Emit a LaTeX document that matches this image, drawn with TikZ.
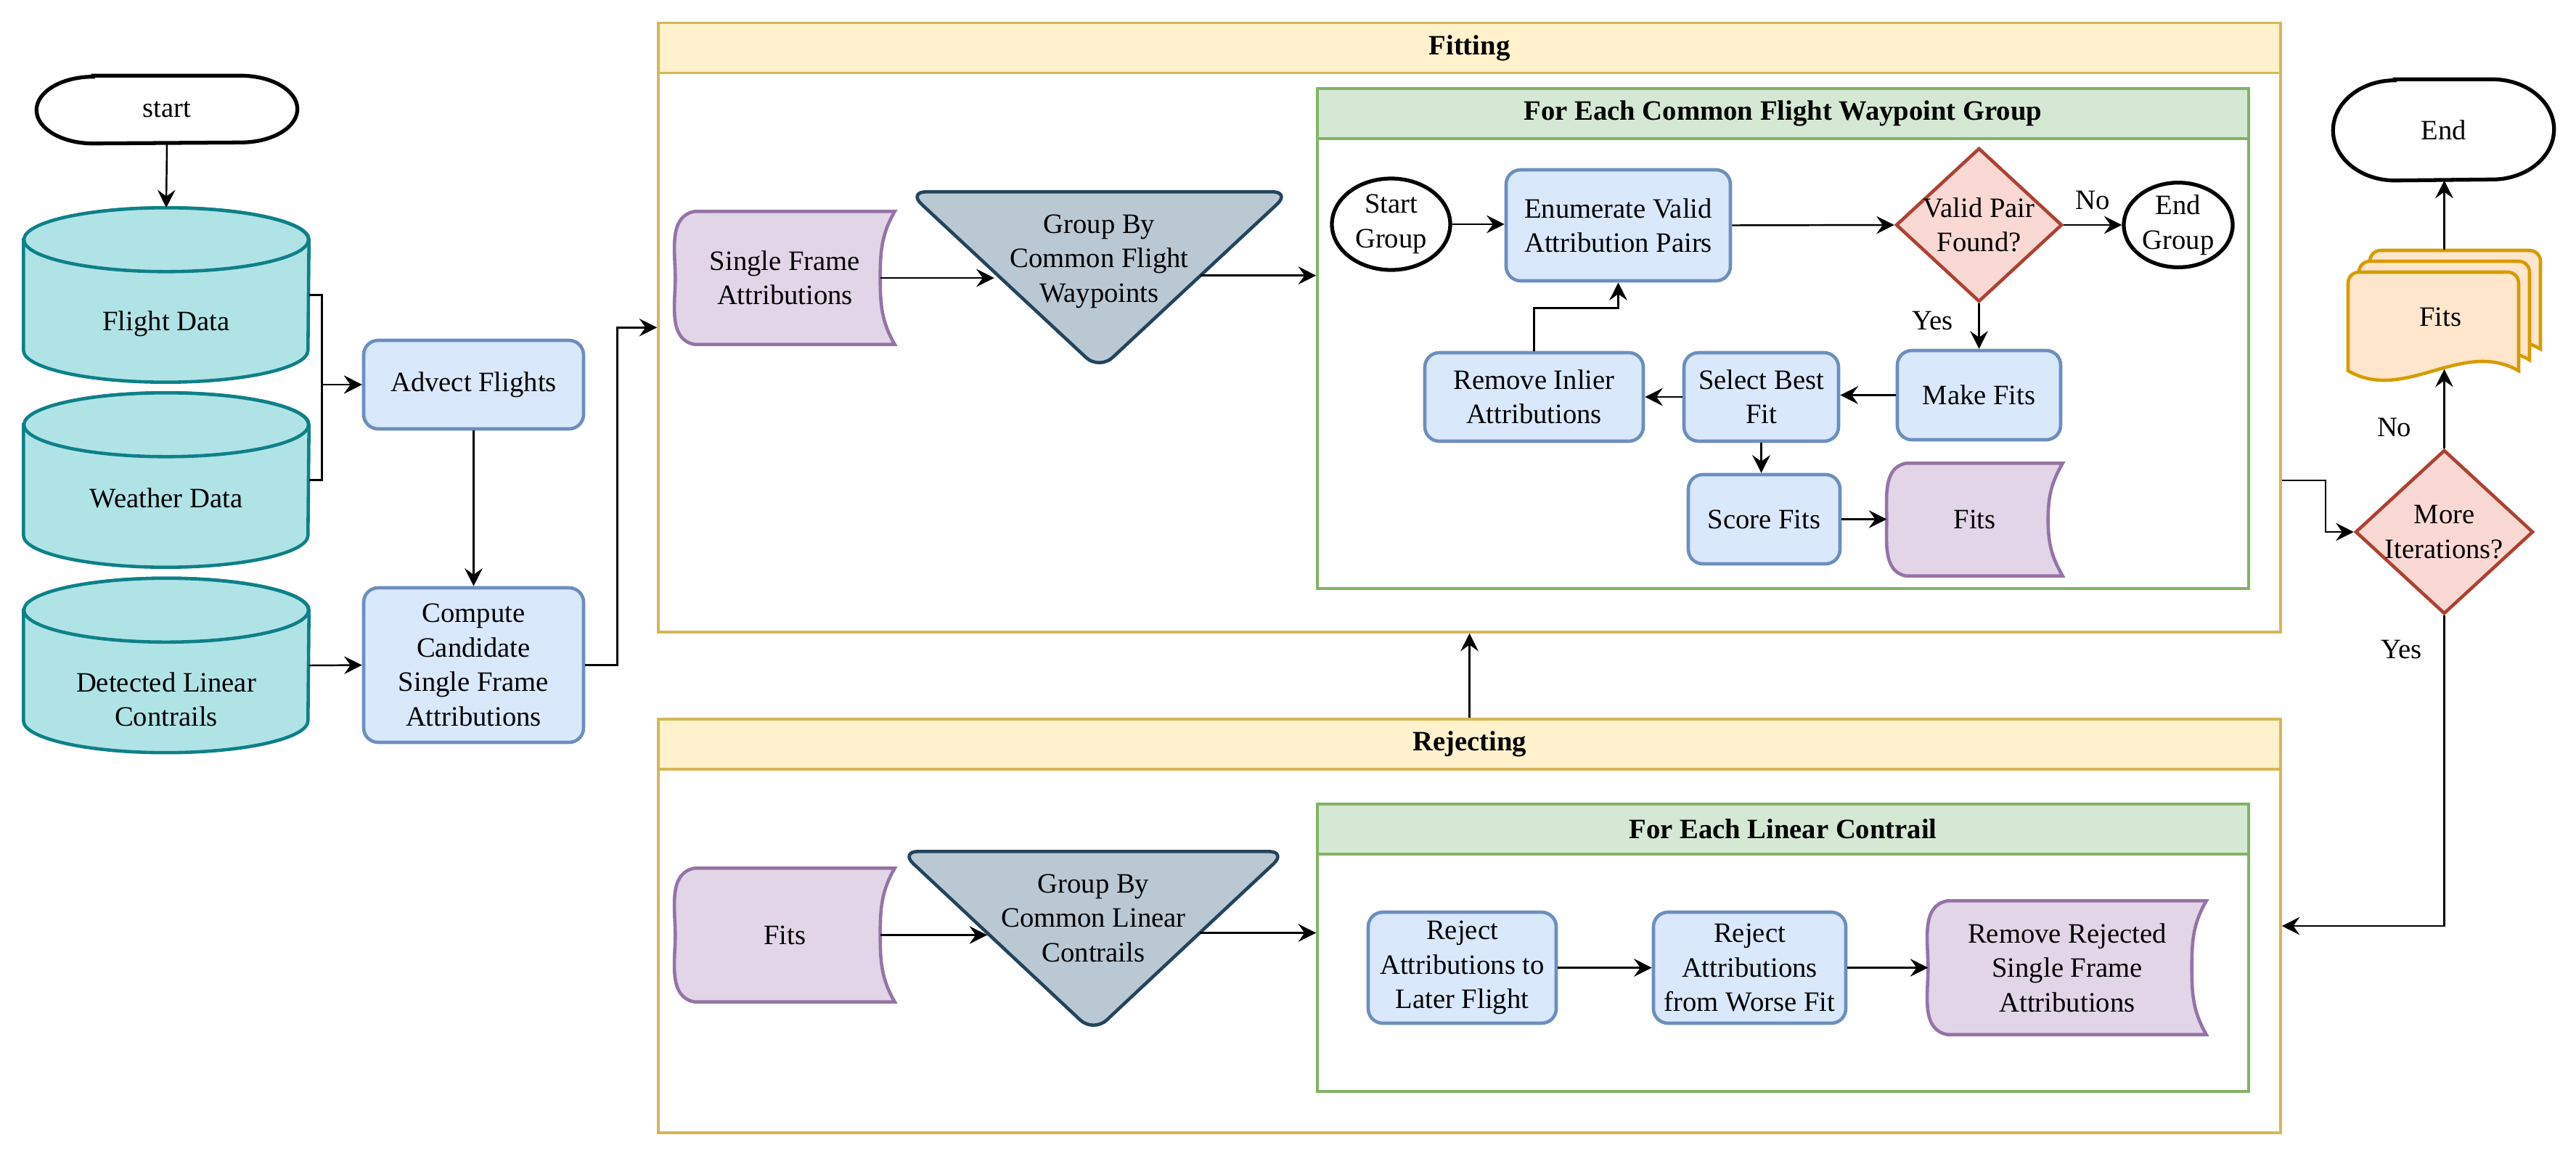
\documentclass[tikz,border=0pt]{standalone}
\usepackage{fontspec}
\setmainfont{Liberation Serif}
\usetikzlibrary{shapes.geometric,arrows.meta,calc,positioning}

\definecolor{cylfill}{HTML}{B0E3E6}\definecolor{cylline}{HTML}{0E8088}
\definecolor{procfill}{HTML}{DAE8FC}\definecolor{procline}{HTML}{6C8EBF}
\definecolor{storefill}{HTML}{E1D5E7}\definecolor{storeline}{HTML}{9673A6}
\definecolor{trifill}{HTML}{BAC8D3}\definecolor{triline}{HTML}{23445D}
\definecolor{decfill}{HTML}{FAD9D5}\definecolor{decline}{HTML}{AE4132}
\definecolor{lanefill}{HTML}{FFF2CC}\definecolor{laneline}{HTML}{D6B656}
\definecolor{grpfill}{HTML}{D5E8D4}\definecolor{grpline}{HTML}{82B366}
\definecolor{docfill}{HTML}{FFE6CC}\definecolor{docline}{HTML}{D79B00}

\pgfdeclarelayer{back}
\pgfdeclarelayer{shapes}
\pgfsetlayers{back,shapes,main}

\tikzset{
  every node/.style={font=\fontsize{11}{13.5}\selectfont, align=center, inner sep=0pt},
  proc/.style={rectangle, rounded corners=0.2cm, draw=procline, fill=procfill, line width=1.3pt},
  oval/.style={ellipse, draw, fill=white, line width=1.5pt},
  dec/.style={diamond, draw=decline, fill=decfill, line width=1.3pt},
  cyl/.style={minimum width=3.92cm, minimum height=2.39cm},
  lane/.style={draw=laneline, line width=1pt},
  lanehead/.style={draw=laneline, fill=lanefill, line width=1pt, anchor=north,
    minimum height=0.69cm, font=\fontsize{11}{13.5}\selectfont\bfseries},
  grp/.style={draw=grpline, line width=1pt},
  grphead/.style={draw=grpline, fill=grpfill, line width=1pt, anchor=north,
    minimum height=0.69cm, font=\fontsize{11}{13.5}\selectfont\bfseries},
  arr/.style={-{Stealth[length=7pt,width=7pt,inset=2.5pt]}, line width=0.7pt}
}

% shapes drawn behind the node texts
\newcommand{\termshape}[3]{%
  \draw[line width=1.5pt, fill=white]
    ($(#1.north west)+(#2,0)$) -- ($(#1.north east)+(-#2,0)$)
    arc[start angle=90, end angle=-90, x radius=#2cm, y radius=#3cm]
    -- ($(#1.south west)+(#2,0)$)
    arc[start angle=270, end angle=90, x radius=#2cm, y radius=#3cm] -- cycle;}
\newcommand{\cylshape}[1]{%
  \draw[draw=cylline, fill=cylfill, line width=1.3pt]
    ($(#1.north west)+(0,-0.44)$) -- ($(#1.south west)+(0,0.44)$)
    arc[start angle=180, end angle=360, x radius=1.96cm, y radius=0.44cm]
    -- ($(#1.north east)+(0,-0.44)$)
    arc[start angle=0, end angle=180, x radius=1.96cm, y radius=0.44cm] -- cycle;
  \draw[draw=cylline, fill=cylfill, line width=1.3pt]
    ($(#1.north)+(0,-0.44)$) ellipse[x radius=1.96cm, y radius=0.44cm];}
\newcommand{\storeshape}[1]{%
  \draw[draw=storeline, fill=storefill, line width=1.3pt]
    ($(#1.north west)+(0.27,0)$) -- (#1.north east)
    to[out=240,in=90] ($(#1.east)+(-0.2,0)$)
    to[out=270,in=120] (#1.south east)
    -- ($(#1.south west)+(0.27,0)$)
    to[out=170,in=270] (#1.west)
    to[out=90,in=190] ($(#1.north west)+(0.27,0)$) -- cycle;}
\newcommand{\trishape}[1]{%
  \draw[draw=triline, fill=trifill, line width=1.3pt, rounded corners=0.25cm]
    (#1.north west) -- (#1.north east) -- (#1.south) -- cycle;}
\newcommand{\fitspage}[2]{%
  \draw[draw=docline, fill=docfill, line width=1.3pt, shift={(#1,#2)}]
    (32.35,-5.11) -- (32.35,-3.90) arc[start angle=180, end angle=90, radius=0.15]
    -- (34.55,-3.75) arc[start angle=90, end angle=0, radius=0.15]
    -- (34.70,-5.11) .. controls (33.92,-4.66) and (33.13,-5.56) .. (32.35,-5.11) -- cycle;}

\begin{document}
\begin{tikzpicture}
  \begin{pgfonlayer}{back}
    \fill[white] (0,0) rectangle (35.49,-15.93);
  \end{pgfonlayer}
  \useasboundingbox (0,0) rectangle (35.49,-15.93);

  % Inputs
  \node[minimum width=3.58cm, minimum height=0.92cm] (start) at (2.30,-1.51) {start};
  \node[cyl, label={[yshift=-0.40cm]center:Flight Data}] (flight) at (2.29,-4.065) {};
  \node[cyl, label={[yshift=-0.245cm]center:Weather Data}] (weather) at (2.29,-6.615) {};
  \node[cyl, label={[yshift=-0.47cm]center:Detected Linear\\Contrails}] (detected) at (2.29,-9.17) {};
  \node[proc, minimum width=3.03cm, minimum height=1.22cm] (advect) at (6.525,-5.30) {Advect Flights};
  \node[proc, minimum width=3.03cm, minimum height=2.13cm] (compute) at (6.525,-9.165)
    {Compute\\Candidate\\Single Frame\\Attributions};
  \draw[arr] (start.south) -- (flight.north);
  \draw[arr] (flight.east) -- ++(0.18,0) |- (advect.west);
  \draw[arr] (weather.east) -- ++(0.18,0) |- (advect.west);
  \draw[arr] (detected.east) -- (compute.west);
  \draw[arr] (advect.south) -- (compute.north);

  % Fitting
  \node[lane, minimum width=22.35cm, minimum height=8.394cm] (fitting) at (20.245,-4.513) {};
  \node[lanehead, minimum width=22.35cm] (fittinghead) at (fitting.north) {Fitting};
  \node[minimum width=3.01cm, minimum height=1.82cm] (sfa) at (10.815,-3.83) {Single Frame\\Attributions};
  \node[minimum width=5.25cm, minimum height=2.44cm,
    label={[yshift=0.27cm]center:Group By\\Common Flight\\Waypoints}] (grp1) at (15.145,-3.87) {};
  \coordinate (grp1in) at ($(grp1.north west)!0.45!(grp1.south)$);
  \coordinate (grp1out) at ($(grp1.north east)!0.47!(grp1.south)$);
  \node[grp, minimum width=12.83cm, minimum height=6.89cm] (wpgroup) at (24.565,-4.665) {};
  \node[grphead, minimum width=12.83cm] (wpgrouphead) at (wpgroup.north) {For Each Common Flight Waypoint Group};
  \draw[arr] (compute.east) -- ++(0.44,0) |- (fitting.west);
  \draw[arr] ([xshift=-0.2cm]sfa.east) -- (sfa.east -| grp1in);
  \draw[arr] (grp1out) -- (grp1out -| wpgroup.west);

  % Each waypoint group
  \node[oval, minimum width=1.63cm, minimum height=1.26cm] (sgrp) at (19.165,-3.09) {Start\\Group};
  \node[proc, minimum width=3.09cm, minimum height=1.53cm] (enum) at (22.295,-3.105) {Enumerate Valid\\Attribution Pairs};
  \node[dec, minimum width=2.29cm, minimum height=2.12cm, label=center:Valid Pair\\Found?] (vpf) at (27.265,-3.10) {};
  \node[oval, minimum width=1.50cm, minimum height=1.12cm] (egrp) at (30.01,-3.10) {End\\Group};
  \node[proc, minimum width=2.25cm, minimum height=1.23cm] (mkfit) at (27.265,-5.445) {Make Fits};
  \node[proc, minimum width=2.13cm, minimum height=1.22cm] (sel) at (24.265,-5.47) {Select Best\\Fit};
  \node[proc, minimum width=3.01cm, minimum height=1.22cm] (rem) at (21.135,-5.47) {Remove Inlier\\Attributions};
  \node[proc, minimum width=2.09cm, minimum height=1.23cm] (score) at (24.305,-7.155) {Score Fits};
  \node[minimum width=2.41cm, minimum height=1.54cm] (fits1) at (27.205,-7.16) {Fits};
  \draw[arr] (sgrp.east) -- (sgrp.east -| enum.west);
  \draw[arr] (enum.east) -- (vpf.west);
  \draw[arr] (vpf.east) -- node[above=0.2cm] {No} (egrp.west);
  \draw[arr] (vpf.south) -- node[pos=0.38, left=0.35cm] {Yes} (mkfit.north);
  \draw[arr] (mkfit.west) -- (mkfit.west -| sel.east);
  \draw[arr] (sel.west) -- (sel.west -| rem.east);
  \draw[arr] (rem.north) -- ++(0,0.59) -| (enum.south);
  \draw[arr] (sel.south) -- (sel.south |- score.north);
  \draw[arr] (score.east) -- (score.east -| fits1.west);

  % Rejecting
  \node[lane, minimum width=22.35cm, minimum height=5.70cm] (rejecting) at (20.245,-12.76) {};
  \node[lanehead, minimum width=22.35cm] (rejectinghead) at (rejecting.north) {Rejecting};
  \node[minimum width=3.01cm, minimum height=1.83cm] (fits2) at (10.815,-12.885) {Fits};
  \node[minimum width=5.31cm, minimum height=2.48cm,
    label={[yshift=0.33cm]center:Group By\\Common Linear\\Contrails}] (grp2) at (15.065,-12.98) {};
  \coordinate (grp2in) at ($(grp2.north west)!0.45!(grp2.south)$);
  \coordinate (grp2out) at ($(grp2.north east)!0.45!(grp2.south)$);
  \node[grp, minimum width=12.83cm, minimum height=3.96cm] (lcgroup) at (24.565,-13.06) {};
  \node[grphead, minimum width=12.83cm] (lcgrouphead) at (lcgroup.north) {For Each Linear Contrail};
  \node[proc, minimum width=2.59cm, minimum height=1.53cm] (rej1) at (20.145,-13.335) {Reject\\Attributions to\\Later Flight};
  \node[proc, minimum width=2.65cm, minimum height=1.53cm] (rej2) at (24.105,-13.335) {Reject\\Attributions\\from Worse Fit};
  \node[minimum width=3.82cm, minimum height=1.83cm] (remrej) at (28.48,-13.335) {Remove Rejected\\Single Frame\\Attributions};
  \draw[arr] ([xshift=-0.2cm]fits2.east) -- (fits2.east -| grp2in);
  \draw[arr] (grp2out) -- (grp2out -| lcgroup.west);
  \draw[arr] (rej1.east) -- (rej2.west);
  \draw[arr] (rej2.east) -- (remrej.west);
  \draw[arr] (rejecting.north) -- (fitting.south);

  % Iterations
  \node[dec, minimum width=2.45cm, minimum height=2.26cm, label=center:More\\Iterations?] (moreit) at (33.675,-7.33) {};
  \node[minimum width=2.65cm, minimum height=1.63cm,
    label={[xshift=-0.055cm,yshift=-0.105cm]center:Fits}] (mfits) at (33.675,-4.265) {};
  \node[minimum width=3.03cm, minimum height=1.38cm] (endn) at (33.665,-1.79) {End};
  \coordinate (fitout) at ($(fitting.south east)!0.25!(fitting.north east)$);
  \draw[arr] (fitout) -- ++(0.6,0) |- (moreit.west);
  \draw[arr] (moreit.north) -- node[pos=0.26, left=0.44cm] {No} (mfits.south);
  \draw[arr] (mfits.north) -- (mfits.north |- endn.south);
  \draw[arr] (moreit.south) |- node[pos=0.055, left=0.30cm] {Yes} (rejecting.east);

  \begin{pgfonlayer}{shapes}
    \termshape{start}{0.78}{0.46}
    \termshape{endn}{0.85}{0.69}
    \cylshape{flight}
    \cylshape{weather}
    \cylshape{detected}
    \storeshape{sfa}
    \storeshape{fits1}
    \storeshape{fits2}
    \storeshape{remrej}
    \trishape{grp1}
    \trishape{grp2}
    \fitspage{0.30}{0.30}
    \fitspage{0.15}{0.15}
    \fitspage{0}{0}
  \end{pgfonlayer}
\end{tikzpicture}
\end{document}
